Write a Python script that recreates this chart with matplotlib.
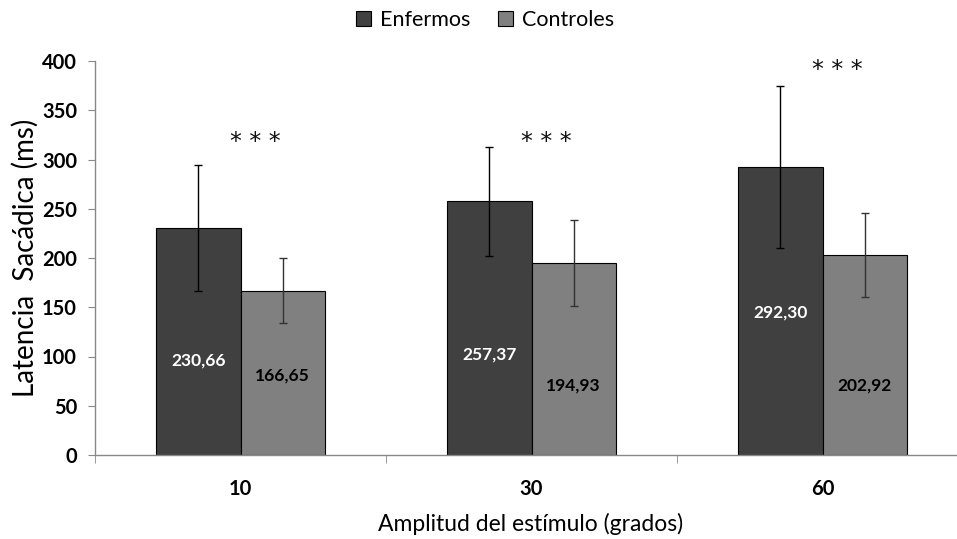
import matplotlib
matplotlib.use("Agg")
import matplotlib.pyplot as plt
import numpy as np
from matplotlib.patches import Patch

categories = ["10", "30", "60"]
enfermos = [230.66, 257.37, 292.30]
controles = [166.65, 194.93, 202.92]
enfermos_err = [64, 55, 82]
controles_err = [33, 44, 43]
enfermos_labels = ["230,66", "257,37", "292,30"]
controles_labels = ["166,65", "194,93", "202,92"]
signif = ["***", "***", "***"]
signif_y = [318, 318, 391]
enf_label_y = [96, 102, 145]
con_label_y = [81, 71, 71]
yticks = [0, 50, 100, 150, 200, 250, 300, 350, 400]

plt.rcParams['font.family'] = ['Lato', 'DejaVu Sans']

fig = plt.figure(figsize=(9.57, 5.39), dpi=100)
ax = fig.add_axes([95/957, 1-455/539, (968-95)/957, (455-61)/539])

x = np.arange(len(categories))
w = 0.29
c_enf = "#404040"
c_con = "#808080"
ax.bar(x - w/2, enfermos, w, color=c_enf, edgecolor="black", linewidth=0.8, zorder=2)
ax.bar(x + w/2, controles, w, color=c_con, edgecolor="black", linewidth=0.8, zorder=2)
ax.errorbar(x - w/2, enfermos, yerr=enfermos_err, fmt="none", ecolor="black",
            elinewidth=1, capsize=3, capthick=1, zorder=3)
ax.errorbar(x + w/2, controles, yerr=controles_err, fmt="none", ecolor="#333333",
            elinewidth=1, capsize=3, capthick=1, zorder=3)

for i in range(len(categories)):
    ax.text(x[i] - w/2, enf_label_y[i], enfermos_labels[i], ha="center", va="center",
            color="white", fontsize=12.5, fontweight="bold", zorder=4)
    ax.text(x[i] + w/2, con_label_y[i], controles_labels[i], ha="center", va="center",
            color="black", fontsize=12.5, fontweight="bold", zorder=4)
    ax.text(x[i] + 0.05, signif_y[i], " ".join(signif[i]), ha="center", va="center",
            color="#111111", fontsize=17, family="DejaVu Sans")

ax.set_xlim(-0.5, 2.5)
ax.set_ylim(0, 400)
ax.set_yticks(yticks)
ax.set_yticklabels([str(v) for v in yticks], fontsize=14.5, fontweight="bold")
ax.set_xticks(x)
ax.set_xticklabels(categories, fontsize=14.5, fontweight="bold")
ax.set_xticks([-0.5, 0.5, 1.5, 2.5], minor=True)
ax.tick_params(axis="x", which="major", length=0, pad=17)
ax.tick_params(axis="x", which="minor", length=6, color="#888888", direction="out")
ax.tick_params(axis="y", length=5, color="#888888", direction="out", pad=8)

for s in ["top", "right"]:
    ax.spines[s].set_visible(False)
for s in ["left", "bottom"]:
    ax.spines[s].set_color("#888888")
    ax.spines[s].set_linewidth(1)

ax.set_ylabel("Latencia  Sacádica (ms)", fontsize=20, labelpad=2)
fig.text(531/957, 1-524/539, "Amplitud del estímulo (grados)", fontsize=16.5,
         ha="center", va="center")

handles = [Patch(facecolor=c_enf, edgecolor="black", linewidth=0.8),
           Patch(facecolor=c_con, edgecolor="black", linewidth=0.8)]
fig.legend(handles, ["Enfermos", "Controles"], loc="center", bbox_to_anchor=(485/957, 1-20/539),
           ncol=2, frameon=False, fontsize=15.5, handlelength=0.7, handleheight=0.7,
           handletextpad=0.4, columnspacing=1.3)

fig.savefig("out.png", dpi=100)
